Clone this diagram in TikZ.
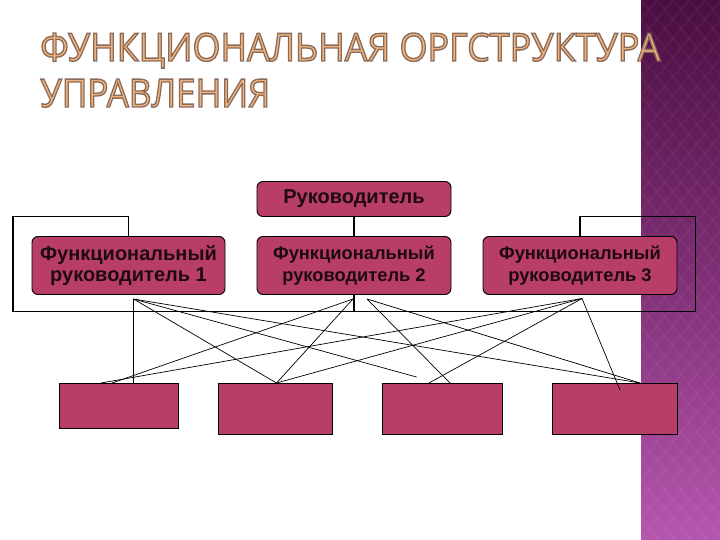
\documentclass[tikz,border=0pt]{standalone}
\usepackage{fontspec}
\setmainfont{Liberation Sans}
\newfontfamily\titlefont{Open Sans}
\usetikzlibrary{calc}
\definecolor{boxfill}{HTML}{B83E69}
\definecolor{txt}{HTML}{1E0A10}
\definecolor{stripTop}{HTML}{4A0E40}
\definecolor{stripMid}{HTML}{7E2E74}
\definecolor{stripBot}{HTML}{B556AE}
\definecolor{titlefill}{HTML}{EDB47F}
\newcommand{\outl}[1]{{\special{pdf:literal direct 2 Tr 0.55 0.42 0.35 RG 0.35 w}#1\special{pdf:literal direct 0 Tr}}}
\begin{document}
\begin{tikzpicture}[x=1pt,y=-1pt,
 rbox/.style={draw=black, line width=0.9pt, fill=boxfill, rounded corners=6pt, inner sep=0pt, text=txt, align=center},
 sbox/.style={draw=black, line width=0.9pt, fill=boxfill, inner sep=0pt},
 frame/.style={line width=1.8pt, black},
 link/.style={line width=0.7pt, black},
 ttl/.style={anchor=base west, inner sep=0pt, text=titlefill}
]
\useasboundingbox (0,0) rectangle (720,540);
\fill[white] (0,0) rectangle (720,540);
% purple strip
\shade[top color=stripTop, bottom color=stripBot, middle color=stripMid] (641,0) rectangle (720,540);
\begin{scope}
\clip (641,0) rectangle (720,540);
\foreach \k in {-30,...,6} {
  \draw[white, opacity=0.035, line width=2pt] (641+16*\k,0) -- ++(450,540);
}
\foreach \k in {0,...,36} {
  \draw[white, opacity=0.035, line width=2pt] (641+16*\k,0) -- ++(-450,540);
}
\end{scope}
% title
\node[ttl] (t1) at (40,61) {\resizebox{620pt}{28pt}{\outl{\titlefont ФУНКЦИОНАЛЬНАЯ ОРГСТРУКТУРА}}};
\node[ttl] (t2) at (40,107) {\resizebox{230pt}{28pt}{\outl{\titlefont УПРАВЛЕНИЯ}}};
% frame coordinates
\coordinate (tl) at (13,216.5);
\coordinate (bl) at (13,311.5);
\coordinate (br) at (695.5,311.5);
\coordinate (tr) at (695.5,216.5);
% boxes top level
\node[rbox, minimum width=194pt, minimum height=35pt, font=\bfseries\fontsize{20}{21}\selectfont] (ruk) at (354,199) {Руководитель};
\draw[frame] (ruk.south) -- (ruk.south |- bl);
\node[rbox, minimum width=193pt, minimum height=58pt, font=\bfseries\fontsize{20}{21}\selectfont] (fr1) at (128.5,265.5) {Функциональный\\руководитель 1};
\node[rbox, minimum width=194pt, minimum height=58pt, font=\bfseries\fontsize{18.3}{21.3}\selectfont] (fr2) at (354,265.5) {Функциональный\\руководитель 2};
\node[rbox, minimum width=194pt, minimum height=58pt, font=\bfseries\fontsize{18.3}{21.3}\selectfont] (fr3) at (580,265.5) {Функциональный\\руководитель 3};
\draw[frame] (fr1.north) |- (tl) -- (bl) -- (br) -- (tr) -| (fr3.north);
% bottom boxes
\node[sbox, minimum width=119pt, minimum height=45pt] (b1) at (118.5,405.5) {};
\node[sbox, minimum width=114pt, minimum height=51pt] (b2) at (275,408.5) {};
\node[sbox, minimum width=120pt, minimum height=51pt] (b3) at (442,408.5) {};
\node[sbox, minimum width=125pt, minimum height=51pt] (b4) at (614.5,408.5) {};
% link end points
\coordinate (sa) at (133.5,299);
\coordinate (sb) at (353,299);
\coordinate (sb2) at (367,299);
\coordinate (sc) at (582,298.5);
\coordinate (e1b) at (112,383);
\coordinate (e1c) at (101,383);
\coordinate (e2) at (276.5,383);
\coordinate (e3a) at (416.5,377);
\coordinate (e3b) at (450,383);
\coordinate (e3c) at (429,383);
\coordinate (e4) at (640,383);
\coordinate (e4c) at (620,390);
% links
\draw[link] (sa) -- (sa |- b1.north);
\draw[link] (sa) -- (e4);
\draw[link] (sa) -- (e3a);
\draw[link] (sa) -- (e2);
\draw[link] (sb) -- (e1b);
\draw[link] (sb) -- (e2);
\draw[link] (sb2) -- (e3b);
\draw[link] (sb2) -- (e4);
\draw[link] (sc) -- (e1c);
\draw[link] (sc) -- (e2);
\draw[link] (sc) -- (e3c);
\draw[link] (sc) -- (e4c);
\end{tikzpicture}
\end{document}
